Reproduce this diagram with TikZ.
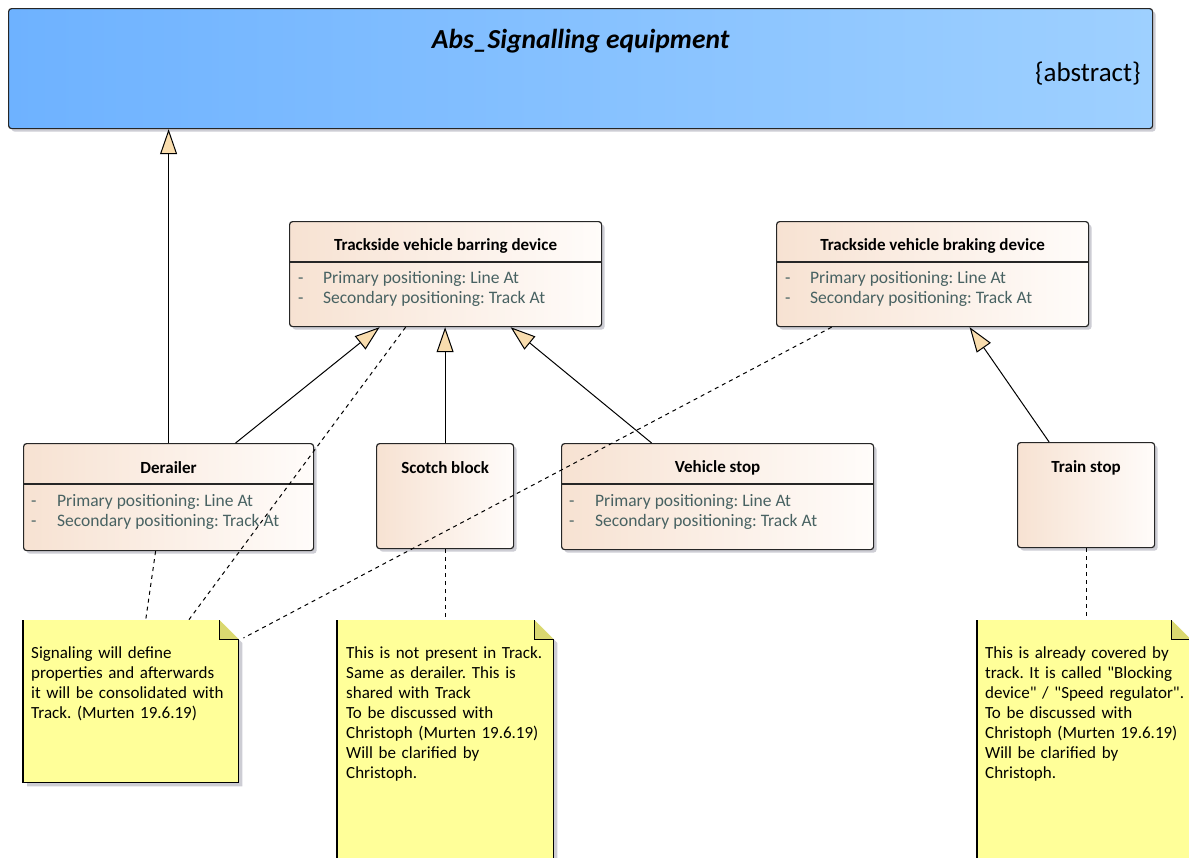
\documentclass[tikz,border=0pt]{standalone}
\usepackage{fontspec}
\setmainfont{Carlito}[Ligatures=TeXOff]
\usetikzlibrary{arrows.meta,positioning,calc,shadows}
\definecolor{absleft}{RGB}{110,178,255}
\definecolor{absright}{RGB}{158,208,255}
\definecolor{clsleft}{RGB}{247,226,210}
\definecolor{clsright}{RGB}{255,252,250}
\definecolor{attrcol}{RGB}{72,98,98}
\definecolor{notefill}{RGB}{255,255,153}
\definecolor{foldfill}{RGB}{218,216,112}
\definecolor{tipfill}{RGB}{249,221,174}
\definecolor{shadecol}{RGB}{205,205,212}
\frenchspacing

\begin{document}
\begin{tikzpicture}[x=1pt,y=-1pt,
  cls/.style={draw=black!85, line width=1.2pt, rounded corners=3pt, left color=clsleft, right color=clsright,
    drop shadow={shadow xshift=3pt, shadow yshift=-3pt, fill=shadecol, opacity=1}, inner sep=0pt, anchor=north west},
  clsname/.style={font=\fontsize{17}{19}\selectfont\bfseries},
  attrline/.style={font=\fontsize{17.5}{20}\selectfont, text=attrcol, anchor=west, inner sep=0pt},
  notebox/.style={inner sep=0pt, anchor=north west},
  notetext/.style={font=\fontsize{17}{20}\selectfont, text width=210pt, align=left, anchor=north west, inner sep=0pt},
  inherit/.style={line width=1pt, -{Triangle[length=25pt, width=17pt, fill=tipfill, line width=1pt]}},
  link/.style={line width=1pt, dash pattern=on 4pt off 4pt}]
  \useasboundingbox (0,0) rectangle (1189,857);
  \clip (0,0) rectangle (1189,857);

  \node[cls, left color=absleft, right color=absright, minimum width=1144pt, minimum height=120pt] (abs) at (8,8) {};
  \node[font=\fontsize{27.5}{30}\selectfont\bfseries\itshape] (absname) at ([yshift=-33pt]abs.north) {Abs\_Signalling equipment};
  \node[font=\fontsize{27}{30}\selectfont, anchor=east] (abstag) at ([xshift=-9pt,yshift=-66pt]abs.north east) {\{abstract\}};

  \node[cls, minimum width=312pt, minimum height=105pt] (barring) at (289,221) {};
  \node[clsname] (barringname) at ([yshift=-25pt]barring.north) {Trackside vehicle barring device};
  \draw[line width=1.2pt, black!85] ([yshift=-41pt]barring.north west) -- ([yshift=-41pt]barring.north east);
  \node[attrline] (barringa) at ([xshift=9pt,yshift=-58pt]barring.north west) {\makebox[25pt][l]{-}Primary positioning: Line At};
  \node[attrline] (barringb) at ([xshift=9pt,yshift=-78pt]barring.north west) {\makebox[25pt][l]{-}Secondary positioning: Track At};

  \node[cls, minimum width=312pt, minimum height=105pt] (braking) at (776,221) {};
  \node[clsname] (brakingname) at ([yshift=-25pt]braking.north) {Trackside vehicle braking device};
  \draw[line width=1.2pt, black!85] ([yshift=-41pt]braking.north west) -- ([yshift=-41pt]braking.north east);
  \node[attrline] (brakinga) at ([xshift=9pt,yshift=-58pt]braking.north west) {\makebox[25pt][l]{-}Primary positioning: Line At};
  \node[attrline] (brakingb) at ([xshift=9pt,yshift=-78pt]braking.north west) {\makebox[25pt][l]{-}Secondary positioning: Track At};

  \node[cls, minimum width=290pt, minimum height=107pt] (derailer) at (23,443) {};
  \node[clsname] (derailername) at ([yshift=-25pt]derailer.north) {Derailer};
  \draw[line width=1.2pt, black!85] ([yshift=-41pt]derailer.north west) -- ([yshift=-41pt]derailer.north east);
  \node[attrline] (derailera) at ([xshift=8pt,yshift=-59pt]derailer.north west) {\makebox[26pt][l]{-}Primary positioning: Line At};
  \node[attrline] (derailerb) at ([xshift=8pt,yshift=-79pt]derailer.north west) {\makebox[26pt][l]{-}Secondary positioning: Track At};

  \node[cls, minimum width=137pt, minimum height=105pt] (scotch) at (376,443) {};
  \node[clsname] (scotchname) at ([yshift=-25pt]scotch.north) {Scotch block};

  \node[cls, minimum width=312pt, minimum height=106pt] (vstop) at (561,443) {};
  \node[clsname] (vstopname) at ([yshift=-25pt]vstop.north) {Vehicle stop};
  \draw[line width=1.2pt, black!85] ([yshift=-41pt]vstop.north west) -- ([yshift=-41pt]vstop.north east);
  \node[attrline] (vstopa) at ([xshift=8pt,yshift=-59pt]vstop.north west) {\makebox[26pt][l]{-}Primary positioning: Line At};
  \node[attrline] (vstopb) at ([xshift=8pt,yshift=-79pt]vstop.north west) {\makebox[26pt][l]{-}Secondary positioning: Track At};

  \node[cls, minimum width=137pt, minimum height=105pt] (tstop) at (1017,442) {};
  \node[clsname] (tstopname) at ([yshift=-26pt]tstop.north) {Train stop};

  \node[notebox, minimum width=215pt, minimum height=162pt] (note1) at (23,620) {};
  \node[notebox, minimum width=216pt, minimum height=300pt] (note2) at (337,620) {};
  \node[notebox, minimum width=213pt, minimum height=300pt] (note3) at (977,620) {};
  \foreach \n in {note1,note2,note3} {
    \fill[notefill, drop shadow={shadow xshift=4pt, shadow yshift=-4pt, fill=shadecol, opacity=1}]
      (\n.north west) -- ([xshift=-19pt]\n.north east) -- ([yshift=-19pt]\n.north east) -- (\n.south east) -- (\n.south west) -- cycle;
    \draw[line width=1.2pt] (\n.north west) -- (\n.south west) -- (\n.south east) -- ([yshift=-19pt]\n.north east);
    \filldraw[fill=foldfill, line width=1pt] ([xshift=-19pt]\n.north east) -- ([xshift=-19pt,yshift=-19pt]\n.north east) -- ([yshift=-19pt]\n.north east);
  }
  \node[notetext] (note1text) at ([xshift=8pt,yshift=-26pt]note1.north west) {Signaling will define\\properties and afterwards\\it will be consolidated with\\Track. (Murten 19.6.19)};
  \node[notetext] (note2text) at ([xshift=9pt,yshift=-26pt]note2.north west) {This is not present in Track.\\Same as derailer. This is\\shared with Track\\To be discussed with\\Christoph (Murten 19.6.19)\\Will be clarified by\\Christoph.};
  \node[notetext] (note3text) at ([xshift=8pt,yshift=-26pt]note3.north west) {This is already covered by\\track. It is called "Blocking\\device" / "Speed regulator".\\To be discussed with\\Christoph (Murten 19.6.19)\\Will be clarified by\\Christoph.};

  \draw[inherit] (derailer.north) -- (derailer.north |- abs.south);
  \draw[inherit] ([xshift=67pt]derailer.north) -- ([xshift=-66pt]barring.south);
  \draw[inherit] (scotch.north) -- (scotch.north |- barring.south);
  \draw[inherit] ([xshift=-66pt]vstop.north) -- ([xshift=65pt]barring.south);
  \draw[inherit] ([xshift=-37pt]tstop.north) -- ([xshift=37pt]braking.south);

  \draw[link] ([xshift=-13pt]derailer.south) -- ([xshift=15pt]note1.north);
  \draw[link] ([xshift=-40pt]barring.south) -- ([xshift=58pt]note1.north);
  \draw[link] ([xshift=-101pt]braking.south) -- ([xshift=5pt,yshift=-18pt]note1.north east);
  \draw[link] (scotch.south) -- (scotch.south |- note2.north);
  \draw[link] (tstop.south) -- (tstop.south |- note3.north);
\end{tikzpicture}
\end{document}
